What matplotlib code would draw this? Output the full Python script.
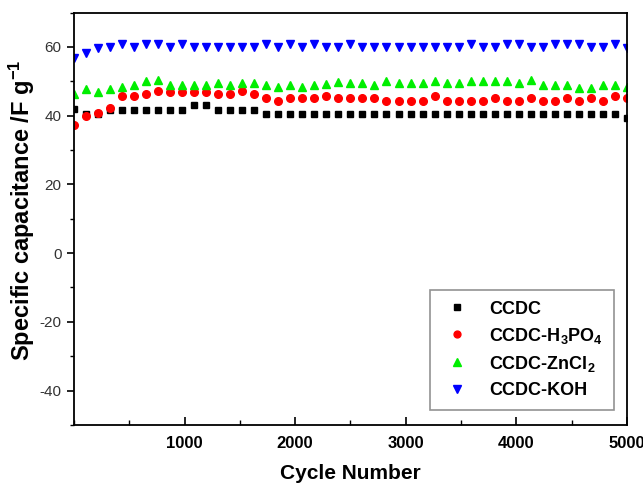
import numpy as np
import matplotlib.pyplot as plt
from matplotlib.ticker import MultipleLocator

plt.rcParams['font.family'] = ['Liberation Sans', 'DejaVu Sans']
plt.rcParams['axes.unicode_minus'] = False
plt.rcParams['mathtext.default'] = 'regular'

# cycle numbers (47 evenly spaced measurements over 5000 cycles)
cycles = np.linspace(0, 5000, 47)

ccdc = [41.8, 40.4, 40.4, 41.6, 41.6, 41.6, 41.6, 41.6, 41.6, 41.6, 43.1, 43.1, 41.6, 41.6, 41.6, 41.6,
        40.4, 40.4, 40.4, 40.4, 40.4, 40.4, 40.4, 40.4, 40.4, 40.4, 40.4, 40.4, 40.4, 40.4, 40.4,
        40.4, 40.4, 40.4, 40.4, 40.4, 40.4, 40.4, 40.4, 40.4, 40.4, 40.4, 40.4, 40.4, 40.4, 40.4, 39.4]
ccdc_h3po4 = [37.3, 39.9, 40.7, 42.1, 45.7, 45.7, 46.4, 47.2, 47.0, 47.0, 47.0, 47.0, 46.4, 46.4, 47.2, 46.2,
              45.0, 44.3, 45.0, 45.0, 45.0, 45.7, 45.0, 45.0, 45.0, 45.0, 44.3, 44.3, 44.3, 44.3, 45.7,
              44.3, 44.3, 44.3, 44.3, 45.0, 44.3, 44.3, 45.0, 44.3, 44.3, 45.0, 44.3, 45.0, 44.3, 45.7, 45.0]
ccdc_zncl2 = [46.2, 47.7, 47.0, 47.7, 48.3, 48.9, 50.1, 50.4, 48.9, 48.9, 48.9, 48.9, 49.4, 48.9, 49.6, 49.6,
              48.9, 48.2, 48.9, 48.3, 48.9, 49.1, 49.9, 49.6, 49.6, 48.9, 50.1, 49.6, 49.6, 49.6, 50.1,
              49.6, 49.6, 50.1, 50.1, 50.1, 50.1, 49.6, 50.4, 48.9, 48.9, 48.9, 48.0, 48.0, 48.9, 48.9, 48.3]
ccdc_koh = [56.7, 58.3, 59.8, 60.1, 60.8, 60.1, 60.8, 60.8, 60.1, 60.8, 60.1, 60.1, 60.1, 60.1, 60.1, 60.1,
            60.8, 60.1, 61.0, 60.1, 60.8, 60.1, 60.1, 61.0, 60.1, 60.1, 60.1, 60.1, 60.1, 60.1, 60.1,
            60.1, 60.1, 61.0, 60.1, 60.1, 61.0, 61.0, 60.1, 60.1, 61.0, 61.0, 61.0, 60.1, 60.1, 61.0, 59.8]

fig = plt.figure(figsize=(6.43, 4.84), dpi=100)
ax = fig.add_axes([0.115, 0.122, 0.86, 0.852])

ax.plot(cycles, ccdc, 's', color='black', markersize=5, linestyle='none', label='CCDC')
ax.plot(cycles, ccdc_h3po4, 'o', color='red', markersize=5.5, linestyle='none', label='CCDC-H$_3$PO$_4$')
ax.plot(cycles, ccdc_zncl2, '^', color='#00ee00', markersize=6, linestyle='none', label='CCDC-ZnCl$_2$')
ax.plot(cycles, ccdc_koh, 'v', color='blue', markersize=6, linestyle='none', label='CCDC-KOH')

ax.set_xlim(0, 5000)
ax.set_ylim(-50, 70)
ax.set_xticks([1000, 2000, 3000, 4000, 5000])
ax.xaxis.set_minor_locator(MultipleLocator(500))
ax.set_yticks([-40, -20, 0, 20, 40, 60])
ax.yaxis.set_minor_locator(MultipleLocator(10))

ax.tick_params(axis='x', which='both', direction='in', top=False, labelsize=12, pad=8)
ax.tick_params(axis='x', which='major', length=6, width=1.2)
ax.tick_params(axis='x', which='minor', length=3.5, width=1.0)
ax.tick_params(axis='y', which='both', direction='out', right=False, labelsize=11, labelcolor='#333333', pad=4)
ax.tick_params(axis='y', which='major', length=5, width=1.2)
ax.tick_params(axis='y', which='minor', length=3, width=1.0)
for lbl in ax.get_xticklabels():
    lbl.set_fontweight('bold')

for s in ax.spines.values():
    s.set_linewidth(1.3)

ax.set_xlabel('Cycle Number', fontsize=15, fontweight='bold', labelpad=9)
ax.set_ylabel('Specific capacitance /F g$^{-1}$', fontsize=17, fontweight='bold')
ax.yaxis.set_label_coords(-0.066, 0.52)

leg = ax.legend(loc='lower right', bbox_to_anchor=(0.993, 0.015), fancybox=False, edgecolor='#777777',
                prop={'weight': 'bold', 'size': 13}, handletextpad=0.9, borderpad=0.6,
                labelspacing=0.45, markerscale=0.9, handlelength=1.8)
leg.get_frame().set_linewidth(1.2)

plt.savefig('out.png')
plt.close()
